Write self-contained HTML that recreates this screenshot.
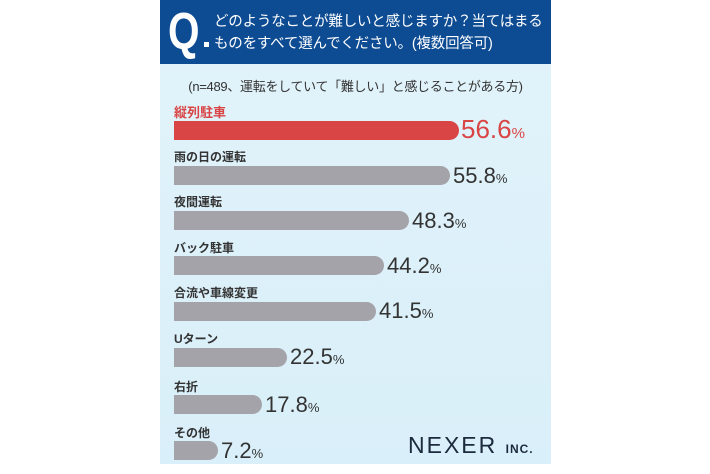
<!DOCTYPE html>
<html><head><meta charset="utf-8"><style>
*{margin:0;padding:0;box-sizing:border-box}
body{width:710px;height:474px;background:#fff;position:relative;overflow:hidden;font-family:"Liberation Sans","Noto Sans CJK JP",sans-serif}
#panel{position:absolute;left:160px;top:0;width:391px;height:464px;background:linear-gradient(#e2f3fa,#d9eff9);overflow:hidden}
#hdr{position:absolute;left:0;top:0;width:391px;height:64px;background:#0d4b93}
#q{position:absolute;left:8px;top:4px;color:#fff;font-size:52px;font-weight:bold;line-height:56px;transform:scaleX(0.78);transform-origin:left}
#qd{position:absolute;left:44px;top:42px;width:5px;height:5px;background:#fff}
.ht{position:absolute;left:54px;color:#fff;font-size:14.5px;white-space:nowrap;letter-spacing:-0.2px;line-height:18px}
#sub{position:absolute;left:0;width:391px;top:76px;text-align:center;font-size:13px;color:#333;letter-spacing:-0.3px}
.lb{position:absolute;left:14px;font-size:12px;font-weight:bold;color:#333}
.bar{position:absolute;left:14px;height:19px;background:#a5a3aa;border-radius:0 10px 10px 0}
.v{position:absolute;font-size:22px;color:#333;line-height:22px;white-space:nowrap}
.v small{font-size:13px}
#nx{position:absolute;left:248px;top:432px;font-size:23px;letter-spacing:2px;color:#1c2a3d}
#nx small{font-size:12px;font-weight:bold;letter-spacing:1px}
</style></head><body>
<div id="panel">
<div id="hdr"><div id="q">Q</div><div id="qd"></div>
<div class="ht" style="top:13px">どのようなことが難しいと感じますか？当てはまる</div>
<div class="ht" style="top:35px">ものをすべて選んでください。(複数回答可)</div></div>
<div id="sub">(n=489、運転をしていて「難しい」と感じることがある方)</div>

<div class="lb" style="top:102px;color:#d94545;font-size:13px">縦列駐車</div>
<div class="bar" style="top:121px;width:285px;background:#d94545"></div>
<div class="v" style="left:301px;top:118px;color:#d94545;font-size:26px">56.6<small style="font-size:15px">%</small></div>

<div class="lb" style="top:148px">雨の日の運転</div>
<div class="bar" style="top:166px;width:276px"></div>
<div class="v" style="left:293px;top:165px">55.8<small>%</small></div>

<div class="lb" style="top:193px">夜間運転</div>
<div class="bar" style="top:211px;width:235px"></div>
<div class="v" style="left:252px;top:210px">48.3<small>%</small></div>

<div class="lb" style="top:239px">バック駐車</div>
<div class="bar" style="top:256px;width:210px"></div>
<div class="v" style="left:227px;top:255px">44.2<small>%</small></div>

<div class="lb" style="top:284px">合流や車線変更</div>
<div class="bar" style="top:302px;width:202px"></div>
<div class="v" style="left:219px;top:300px">41.5<small>%</small></div>

<div class="lb" style="top:330px">Uターン</div>
<div class="bar" style="top:348px;width:113px"></div>
<div class="v" style="left:130px;top:346px">22.5<small>%</small></div>

<div class="lb" style="top:378px">右折</div>
<div class="bar" style="top:395px;width:88px"></div>
<div class="v" style="left:105px;top:394px">17.8<small>%</small></div>

<div class="lb" style="top:424px">その他</div>
<div class="bar" style="top:441px;width:44px"></div>
<div class="v" style="left:61px;top:440px">7.2<small>%</small></div>

<div id="nx">NEXER <small>INC.</small></div>
</div>
</body></html>
